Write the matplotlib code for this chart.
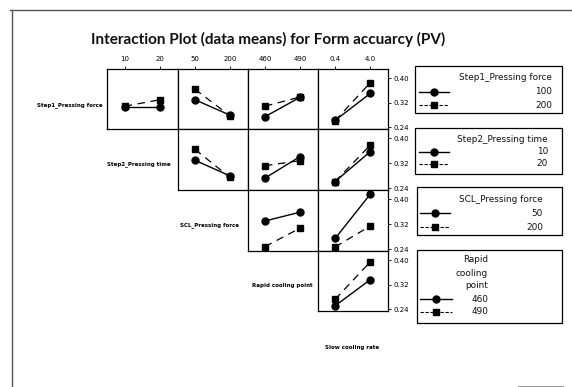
import matplotlib
matplotlib.use("Agg")
import matplotlib.pyplot as plt
from matplotlib.patches import Rectangle

W, H, DPI = 572, 387, 100

# ---------------- data ----------------
title = "Interaction Plot (data means) for Form accuarcy (PV)"
row_labels = ["Step1_Pressing force", "Step2_Pressing time", "SCL_Pressing force", "Rapid cooling point"]
x_factor_label = "Slow cooling rate"
legend_titles = ["Step1_Pressing force", "Step2_Pressing time", "SCL_Pressing force", "Rapid\ncooling\npoint"]

step1_levels = ["100", "200"]
step2_levels = ["10", "20"]
scl_levels = ["50", "200"]
rapid_levels = ["460", "490"]
slow_levels = ["0.4", "4.0"]

y_ticks = [0.24, 0.32, 0.40]
y_tick_labels = ["0.24", "0.32", "0.40"]

# means of Form accuracy: (low level of trace factor, high level of trace factor)
step1_vs_step2 = ([0.307, 0.307], [0.309, 0.330])
step1_vs_scl = ([0.330, 0.280], [0.364, 0.278])
step1_vs_rapid = ([0.275, 0.338], [0.309, 0.339])
step1_vs_slow = ([0.263, 0.351], [0.262, 0.386])

step2_vs_scl = ([0.330, 0.280], [0.365, 0.275])
step2_vs_rapid = ([0.273, 0.342], [0.3125, 0.329])
step2_vs_slow = ([0.262, 0.358], [0.262, 0.379])

scl_vs_rapid = ([0.331, 0.359], [0.249, 0.308])
scl_vs_slow = ([0.275, 0.417], [0.248, 0.315])

rapid_vs_slow = ([0.252, 0.337], [0.273, 0.395])

x_levels_by_col = [step2_levels, scl_levels, rapid_levels, slow_levels]
trace_levels_by_row = [step1_levels, step2_levels, scl_levels, rapid_levels]
panels = {
    (0, 0): step1_vs_step2, (0, 1): step1_vs_scl, (0, 2): step1_vs_rapid, (0, 3): step1_vs_slow,
    (1, 1): step2_vs_scl, (1, 2): step2_vs_rapid, (1, 3): step2_vs_slow,
    (2, 2): scl_vs_rapid, (2, 3): scl_vs_slow,
    (3, 3): rapid_vs_slow,
}

# ---------------- figure ----------------
plt.rcParams["font.family"] = ["DejaVu Sans"]
fig = plt.figure(figsize=(W / DPI, H / DPI), dpi=DPI)
fig.patch.set_facecolor("white")

# overlay in pixel coordinates (below the panels)
ov = fig.add_axes([0, 0, 1, 1], zorder=-1)
ov.set_xlim(0, W)
ov.set_ylim(H, 0)
ov.axis("off")

col_edges = [107, 177.5, 247.5, 317.5, 388]
row_edges = [69, 129, 190, 251, 311]
DASH = (0, (6, 4.5))

for (r, c), (low, high) in panels.items():
    x0, x1 = col_edges[c], col_edges[c + 1]
    y0, y1 = row_edges[r], row_edges[r + 1]
    ax = fig.add_axes([x0 / W, 1 - y1 / H, (x1 - x0) / W, (y1 - y0) / H], zorder=1)
    ax.set_facecolor("white")
    xs = [1, 2]
    ax.plot(xs, high, color="black", lw=0.9, linestyle=DASH,
            marker="s", ms=4.2, mfc="black", mec="black", zorder=3)
    ax.plot(xs, low, color="black", lw=1.0, linestyle="-",
            marker="o", ms=5.0, mfc="black", mec="black", zorder=4)
    ax.set_xlim(0.5, 2.5)
    ax.set_ylim(0.235, 0.430)
    ax.set_xticks(xs)
    ax.set_xticklabels(x_levels_by_col[c])
    ax.set_yticks(y_ticks)
    ax.set_yticklabels(y_tick_labels)
    for s in ax.spines.values():
        s.set_linewidth(0.9)
        s.set_color("black")
    ax.tick_params(axis="both", direction="out", length=2.5, width=0.6,
                   labelsize=5, colors="black")
    ax.tick_params(axis="x", bottom=False, labelbottom=False,
                   top=(r == 0), labeltop=(r == 0), pad=2.5)
    ax.tick_params(axis="y", left=False, labelleft=False,
                   right=(c == 3), labelright=(c == 3), pad=1.5)

renderer = fig.canvas.get_renderer()


def fit(t, target):
    w = t.get_window_extent(renderer=renderer).width
    t.set_fontsize(t.get_fontsize() * target / w)
    return t.get_fontsize()


# title
tt = ov.text(268, 39, title, ha="center", va="center", fontweight="bold",
             fontsize=10, color="#111111", family=["Lato", "DejaVu Sans"])
fit(tt, 356)

# row labels (bold, small, may be partly hidden under the panels)
ref = ov.text(252, 286, row_labels[3], ha="left", va="center", fontweight="bold", fontsize=5)
lab_fs = fit(ref, 62)
ov.text(37, 105, row_labels[0], ha="left", va="center", fontweight="bold", fontsize=lab_fs)
ov.text(107, 164, row_labels[1], ha="left", va="center", fontweight="bold", fontsize=lab_fs)
ov.text(180, 225, row_labels[2], ha="left", va="center", fontweight="bold", fontsize=lab_fs)
ov.text(325, 347, x_factor_label, ha="left", va="center", fontweight="bold", fontsize=lab_fs)

# legends
leg_boxes = [
    dict(box=(415, 66, 562, 113), right=552, title_y=[77], entry_y=[92, 105], sx=(419, 449)),
    dict(box=(415, 128, 562, 174), right=548, title_y=[139], entry_y=[152, 164], sx=(419, 449)),
    dict(box=(417, 187, 562, 235), right=543, title_y=[200], entry_y=[213, 227], sx=(420, 450)),
    dict(box=(417, 250, 562, 323), right=488, title_y=[260, 273, 286], entry_y=[299, 312], sx=(420, 452)),
]
tmp = ov.text(0, -50, legend_titles[0], fontsize=7)
leg_fs = fit(tmp, 93)
tmp.remove()

for i, lg in enumerate(leg_boxes):
    bx0, by0, bx1, by1 = lg["box"]
    ov.add_patch(Rectangle((bx0, by0), bx1 - bx0, by1 - by0, fill=False,
                           edgecolor="black", lw=0.9))
    for line, ty in zip(legend_titles[i].split("\n"), lg["title_y"]):
        ov.text(lg["right"], ty, line, ha="right", va="center", fontsize=leg_fs, color="#111111")
    sx0, sx1 = lg["sx"]
    sxm = (sx0 + sx1) / 2
    styles = [dict(ls="-", marker="o", ms=5.0, lw=1.0), dict(ls=(0, (3, 1.5)), marker="s", ms=4.2, lw=0.8)]
    for lvl, ey, st in zip(trace_levels_by_row[i], lg["entry_y"], styles):
        ov.plot([sx0, sxm, sx1], [ey, ey, ey], color="black", linestyle=st["ls"], lw=st["lw"],
                marker=st["marker"], ms=st["ms"], markevery=[1], mfc="black", mec="black")
        ov.text(lg["right"], ey, lvl, ha="right", va="center", fontsize=leg_fs, color="#111111")

# outer frame fragments
ov.plot([10, 572], [10, 10], color="#555555", lw=1.0)
ov.plot([12, 12], [10, 387], color="#555555", lw=1.0)
ov.plot([518, 563], [386, 386], color="#999999", lw=0.8)

fig.savefig("out.png", dpi=DPI, facecolor="white")
